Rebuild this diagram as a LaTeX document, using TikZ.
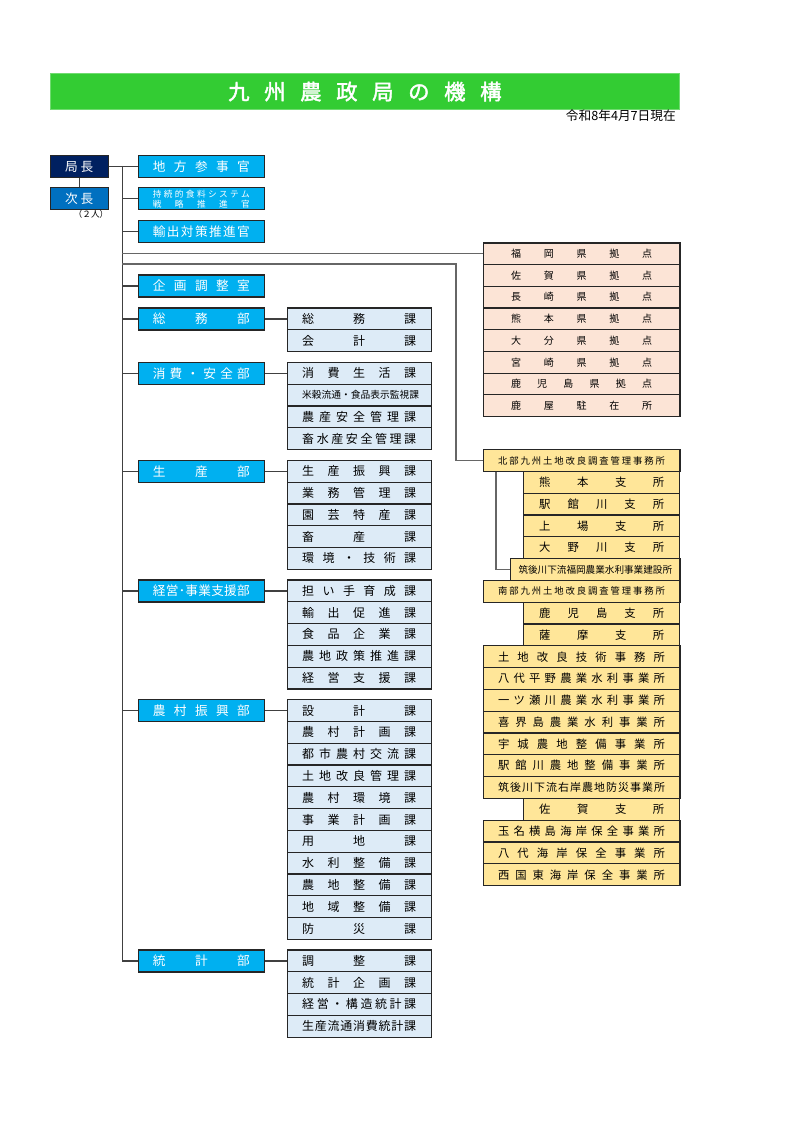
\documentclass[tikz,border=0pt]{standalone}
\usepackage{fontspec}
\setmainfont{Noto Sans CJK JP}
\setsansfont{Noto Sans CJK JP}
\newfontfamily\titlefont{Noto Sans CJK JP}[FakeBold=2]
\usepackage{xcolor}
\usetikzlibrary{backgrounds}
\definecolor{titlegreen}{RGB}{51,204,51}
\definecolor{chonavy}{RGB}{0,32,96}
\definecolor{jichoblue}{RGB}{0,112,192}
\definecolor{bucyan}{RGB}{0,176,240}
\definecolor{kablue}{RGB}{221,235,247}
\definecolor{kyotenpeach}{RGB}{252,228,214}
\definecolor{jimuyellow}{RGB}{255,230,153}
\makeatletter
\def\kinto#1{\kinto@a#1\kinto@end}
\def\kinto@a#1#2{#1\ifx\kinto@end#2\else\hfill\expandafter\kinto@a\expandafter#2\fi}
\def\kinto@end{}
\newcommand\kbox[2]{\hbox to #1{\kinto{#2}}}
\makeatother
\newcommand\butxt[1]{\kbox{72.75pt}{#1}}
\newcommand\katxt[1]{\kbox{85.5pt}{#1}}
\newcommand\jmtxt[1]{\kbox{125.25pt}{#1}}
\newcommand\shtxt[1]{\kbox{93.75pt}{#1}}
\newcommand\kttxt[1]{\kbox{105.75pt}{#1}}

\begin{document}
\begin{tikzpicture}[x=0.75pt,y=-0.75pt]
            \tikzset{
            box/.style={draw=black!85,line width=0.9pt,inner sep=0,anchor=north west},
            cho node/.style={box,fill=chonavy,text=white,minimum width=43.7pt,minimum height=16.5pt,font=\fontsize{9.5}{10}\selectfont},
            ji node/.style={cho node,fill=jichoblue},
            bu node/.style={box,fill=bucyan,text=white,minimum width=94.9pt,minimum height=16.5pt,font=\fontsize{9.5}{10}\selectfont},
            ka node/.style={box,fill=kablue,minimum width=108.2pt,minimum height=16.35pt,font=\fontsize{9}{10}\selectfont},
            kyoten node/.style={box,fill=kyotenpeach,minimum width=147.6pt,minimum height=16.3pt,font=\fontsize{7.5}{8}\selectfont},
            jimu node/.style={box,fill=jimuyellow,minimum width=147.6pt,minimum height=16.35pt,font=\fontsize{8.5}{9}\selectfont},
            shisho node/.style={jimu node,minimum width=117.2pt},
            conn/.style={draw=black!75,line width=0.9pt},
            long conn/.style={draw=black!60,line width=0.9pt}
            }
            \useasboundingbox (0,0) rectangle (794,1123);
            % title
            \node[box,draw=titlegreen!70!white,line width=0.6pt,fill=titlegreen,minimum width=471.75pt,minimum height=26.8pt] (title) at (50,73.3)
                {\titlefont\fontsize{16}{18}\selectfont\color{white}\kbox{205pt}{九州農政局の機構}};
            \node[anchor=east,inner sep=0,font=\fontsize{9.5}{10}\selectfont] (date) at (676,116) {令和8年4月7日現在};
            % top
            \node[cho node] (cho) at (49.5,155) {\kbox{21pt}{局長}};
            \node[ji node] (ji) at (49.5,187.3) {\kbox{21pt}{次長}};
            \node[inner sep=0,font=\fontsize{6.5}{7}\selectfont] (jinin) at (91,214.5) {（２人）};
            % bu
            \node[bu node] (b1) at (137.5,155) {\butxt{地方参事官}};
            \node[bu node,align=center,font=\fontsize{6.5}{7.8}\selectfont] (b2) at (137.5,187.3) {\butxt{持続的食料システム}\\\butxt{戦略推進官}};
            \node[bu node] (b3) at (137.5,220) {\butxt{輸出対策推進官}};
            \node[bu node] (b4) at (137.5,274.3) {\butxt{企画調整室}};
            \node[bu node] (b5) at (137.5,307.3) {\butxt{総務部}};
            \node[bu node] (b6) at (137.5,361.7) {\butxt{消費・安全部}};
            \node[bu node] (b7) at (137.5,459.7) {\butxt{生産部}};
            \node[bu node] (b8) at (137.5,579.3) {\butxt{経営･事業支援部}};
            \node[bu node] (b9) at (137.5,699) {\butxt{農村振興部}};
            \node[bu node] (b10) at (137.5,949.3) {\butxt{統計部}};
            % ka
            \node[ka node] (s1) at (286.5,307.3) {\katxt{総務課}};
            \node[ka node] (s2) at (286.5,329.1) {\katxt{会計課}};
            \node[ka node] (c1) at (286.5,361.7) {\katxt{消費生活課}};
            \node[ka node,font=\fontsize{7.3}{8}\selectfont] (c2) at (286.5,383.5) {\katxt{米穀流通・食品表示監視課}};
            \node[ka node] (c3) at (286.5,405.3) {\katxt{農産安全管理課}};
            \node[ka node] (c4) at (286.5,427.1) {\katxt{畜水産安全管理課}};
            \node[ka node] (p1) at (286.5,459.7) {\katxt{生産振興課}};
            \node[ka node] (p2) at (286.5,481.5) {\katxt{業務管理課}};
            \node[ka node] (p3) at (286.5,503.3) {\katxt{園芸特産課}};
            \node[ka node] (p4) at (286.5,525.1) {\katxt{畜産課}};
            \node[ka node] (p5) at (286.5,546.9) {\katxt{環境・技術課}};
            \node[ka node] (e1) at (286.5,579.3) {\katxt{担い手育成課}};
            \node[ka node] (e2) at (286.5,601.1) {\katxt{輸出促進課}};
            \node[ka node] (e3) at (286.5,622.9) {\katxt{食品企業課}};
            \node[ka node] (e4) at (286.5,644.7) {\katxt{農地政策推進課}};
            \node[ka node] (e5) at (286.5,666.5) {\katxt{経営支援課}};
            \node[ka node] (n1) at (286.5,699) {\katxt{設計課}};
            \node[ka node] (n2) at (286.5,720.8) {\katxt{農村計画課}};
            \node[ka node] (n3) at (286.5,742.6) {\katxt{都市農村交流課}};
            \node[ka node] (n4) at (286.5,764.4) {\katxt{土地改良管理課}};
            \node[ka node] (n5) at (286.5,786.2) {\katxt{農村環境課}};
            \node[ka node] (n6) at (286.5,808) {\katxt{事業計画課}};
            \node[ka node] (n7) at (286.5,829.8) {\katxt{用地課}};
            \node[ka node] (n8) at (286.5,851.6) {\katxt{水利整備課}};
            \node[ka node] (n9) at (286.5,873.4) {\katxt{農地整備課}};
            \node[ka node] (n10) at (286.5,895.2) {\katxt{地域整備課}};
            \node[ka node] (n11) at (286.5,917) {\katxt{防災課}};
            \node[ka node] (t1) at (286.5,949.3) {\katxt{調整課}};
            \node[ka node] (t2) at (286.5,971.1) {\katxt{統計企画課}};
            \node[ka node] (t3) at (286.5,992.9) {\katxt{経営・構造統計課}};
            \node[ka node] (t4) at (286.5,1014.7) {\katxt{生産流通消費統計課}};
            % kyoten
            \node[kyoten node] (k1) at (482.5,242.3) {\kttxt{福岡県拠点}};
            \node[kyoten node] (k2) at (482.5,264) {\kttxt{佐賀県拠点}};
            \node[kyoten node] (k3) at (482.5,285.7) {\kttxt{長崎県拠点}};
            \node[kyoten node] (k4) at (482.5,307.4) {\kttxt{熊本県拠点}};
            \node[kyoten node] (k5) at (482.5,329.1) {\kttxt{大分県拠点}};
            \node[kyoten node] (k6) at (482.5,350.8) {\kttxt{宮崎県拠点}};
            \node[kyoten node] (k7) at (482.5,372.5) {\kttxt{鹿児島県拠点}};
            \node[kyoten node] (k8) at (482.5,394.2) {\kttxt{鹿屋駐在所}};
            % jimusho
            \node[jimu node,font=\fontsize{7}{8}\selectfont] (r0) at (482.5,449) {\jmtxt{北部九州土地改良調査管理事務所}};
            \node[shisho node] (r1) at (523,470.8) {\shtxt{熊本支所}};
            \node[shisho node] (r2) at (523,492.6) {\shtxt{駅館川支所}};
            \node[shisho node] (r3) at (523,514.4) {\shtxt{上場支所}};
            \node[shisho node] (r4) at (523,536.2) {\shtxt{大野川支所}};
            \node[shisho node,minimum width=127.4pt,font=\fontsize{7.2}{8}\selectfont] (r5) at (509.5,558) {\kbox{114.75pt}{筑後川下流福岡農業水利事業建設所}};
            \node[jimu node,font=\fontsize{7}{8}\selectfont] (r6) at (482.5,579.8) {\jmtxt{南部九州土地改良調査管理事務所}};
            \node[shisho node] (r7) at (523,601.6) {\shtxt{鹿児島支所}};
            \node[shisho node] (r8) at (523,623.4) {\shtxt{薩摩支所}};
            \node[jimu node] (r9) at (482.5,645.2) {\jmtxt{土地改良技術事務所}};
            \node[jimu node] (r10) at (482.5,667) {\jmtxt{八代平野農業水利事業所}};
            \node[jimu node] (r11) at (482.5,688.8) {\jmtxt{一ツ瀬川農業水利事業所}};
            \node[jimu node] (r12) at (482.5,710.6) {\jmtxt{喜界島農業水利事業所}};
            \node[jimu node] (r13) at (482.5,732.4) {\jmtxt{宇城農地整備事業所}};
            \node[jimu node] (r14) at (482.5,754.2) {\jmtxt{駅館川農地整備事業所}};
            \node[jimu node,font=\fontsize{8.2}{9}\selectfont] (r15) at (482.5,776) {\jmtxt{筑後川下流右岸農地防災事業所}};
            \node[shisho node] (r16) at (523,797.8) {\shtxt{佐賀支所}};
            \node[jimu node] (r17) at (482.5,819.6) {\jmtxt{玉名横島海岸保全事業所}};
            \node[jimu node] (r18) at (482.5,841.4) {\jmtxt{八代海岸保全事業所}};
            \node[jimu node] (r19) at (482.5,863.2) {\jmtxt{西国東海岸保全事業所}};
            % lines
            \coordinate (spine) at (122.3,166);
            \coordinate (kink) at (456,264);
            \begin{scope}[on background layer]
            \path[conn]
            (cho.south) -- (ji.north)
            (cho.east) -- (b1.west)
            (spine) |- (b10.west)
            (b2.west) -- (b2.west -| spine)
            (b3.west) -- (b3.west -| spine)
            (b4.west) -- (b4.west -| spine)
            (b5.west) -- (b5.west -| spine)
            (b6.west) -- (b6.west -| spine)
            (b7.west) -- (b7.west -| spine)
            (b8.west) -- (b8.west -| spine)
            (b9.west) -- (b9.west -| spine)
            (b5.east) -- (b5.east -| s1.west)
            (b6.east) -- (b6.east -| c1.west)
            (b7.east) -- (b7.east -| p1.west)
            (b8.east) -- (b8.east -| e1.west)
            (b9.east) -- (b9.east -| n1.west)
            (b10.east) -- (b10.east -| t1.west)
            ;
            \path[long conn]
            (k1.west -| spine) -- (k1.west)
            (kink -| spine) -- (kink) |- (r0.west)
            ([xshift=10.1pt]r0.south west) |- (r5.west)
            ;
            \end{scope}
        \end{tikzpicture}
\end{document}
